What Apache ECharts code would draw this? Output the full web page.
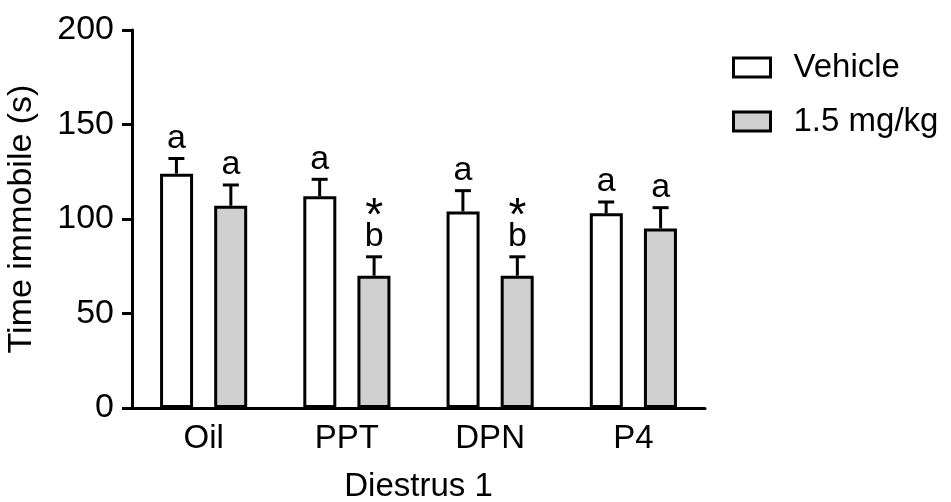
<!DOCTYPE html>
<html>
<head>
<meta charset="utf-8">
<script src="https://cdn.jsdelivr.net/npm/echarts@6/dist/echarts.min.js"></script>
<style>html,body{margin:0;padding:0;background:#fff;}#c{width:951px;height:502px;}</style>
</head>
<body>
<div id="c"></div>
<script>
const categories = ['Oil', 'PPT', 'DPN', 'P4'];
const vehicleMean = [124, 112, 104, 103];
const vehicleErr = [8, 9, 11, 6];
const doseMean = [107, 70, 70, 95];
const doseErr = [11, 10, 10, 11];
const vehicleLabels = ['a', 'a', 'a', 'a'];
const doseLabels = ['a', '*\nb', '*\nb', 'a'];
const yTicks = [0, 50, 100, 150, 200];

const FONT = '"Liberation Sans", Arial, sans-serif';

function errData(means, errs, labels) {
  return means.map((m, i) => [i, m, errs[i], labels[i]]);
}
function makeRender(sign) {
  const labels = sign < 0 ? vehicleLabels : doseLabels;
  return function (params, api) {
    const i = api.value(0), m = api.value(1), e = api.value(2);
    const label = labels[params.dataIndex];
    const base = api.coord([i, m]);
    const top = api.coord([i, m + e]);
    const bw = api.size([1, 0])[0];
    const cx = base[0] + sign * bw * 0.19;
    const style = { stroke: '#000', lineWidth: 3 };
    const parts = label.split('\n');
    const children = [
      { type: 'line', shape: { x1: cx, y1: base[1], x2: cx, y2: top[1] }, style: style },
      { type: 'line', shape: { x1: cx - 8, y1: top[1], x2: cx + 8, y2: top[1] }, style: style }
    ];
    let y = top[1] - 3;
    for (let k = parts.length - 1; k >= 0; k--) {
      const star = parts[k] === '*';
      children.push({ type: 'text', style: {
        x: cx, y: star ? y + 14 : y, text: parts[k], align: 'center', verticalAlign: 'bottom',
        font: (star ? '46px ' : '34px ') + FONT, fill: '#000' } });
      y -= 27;
    }
    return { type: 'group', children: children };
  };
}

const chart = echarts.init(document.getElementById('c'), null, { renderer: 'canvas' });
chart.setOption({
  animation: false,
  backgroundColor: '#fff',
  grid: { left: 132, right: 246, top: 30, bottom: 94, outerBoundsMode: 'none', containLabel: false },
  legend: {
    data: ['Vehicle', '1.5 mg/kg'],
    orient: 'vertical',
    left: 727, top: 46,
    icon: 'rect',
    itemWidth: 37, itemHeight: 19, itemGap: 21,
    itemStyle: { borderColor: '#000', borderWidth: 3 },
    textStyle: { fontFamily: FONT, fontSize: 33, color: '#000', padding: [0, 0, 0, 18] }
  },
  xAxis: {
    type: 'category',
    data: categories,
    name: 'Diestrus 1',
    nameLocation: 'middle',
    nameGap: 62,
    nameTextStyle: { fontFamily: FONT, fontSize: 33, color: '#000' },
    axisLine: { lineStyle: { color: '#000', width: 3 } },
    axisTick: { alignWithLabel: true, length: 8, lineStyle: { color: '#000', width: 3 } },
    axisLabel: { fontFamily: FONT, fontSize: 33, color: '#000', margin: 14 }
  },
  yAxis: {
    type: 'value',
    min: yTicks[0], max: yTicks[yTicks.length - 1], interval: 50,
    name: 'Time immobile (s)',
    nameLocation: 'middle',
    nameGap: 93,
    nameRotate: 90,
    nameTextStyle: { fontFamily: FONT, fontSize: 34, color: '#000' },
    axisLine: { show: true, lineStyle: { color: '#000', width: 3 } },
    axisTick: { show: true, length: 10, lineStyle: { color: '#000', width: 3 } },
    axisLabel: { fontFamily: FONT, fontSize: 34, color: '#000', margin: 18 },
    splitLine: { show: false }
  },
  series: [
    { name: 'Vehicle', type: 'bar', data: vehicleMean, barWidth: 33, barGap: '64%',
      itemStyle: { color: '#ffffff', borderColor: '#000', borderWidth: 3 } },
    { name: '1.5 mg/kg', type: 'bar', data: doseMean, barWidth: 33, barGap: '64%',
      itemStyle: { color: '#d0d0d0', borderColor: '#000', borderWidth: 3 } },
    { name: 'errV', type: 'custom', data: errData(vehicleMean, vehicleErr, vehicleLabels),
      encode: { x: 0, y: 1 }, renderItem: makeRender(-1), z: 5 },
    { name: 'errD', type: 'custom', data: errData(doseMean, doseErr, doseLabels),
      encode: { x: 0, y: 1 }, renderItem: makeRender(1), z: 5 }
  ]
});
</script>
</body>
</html>
